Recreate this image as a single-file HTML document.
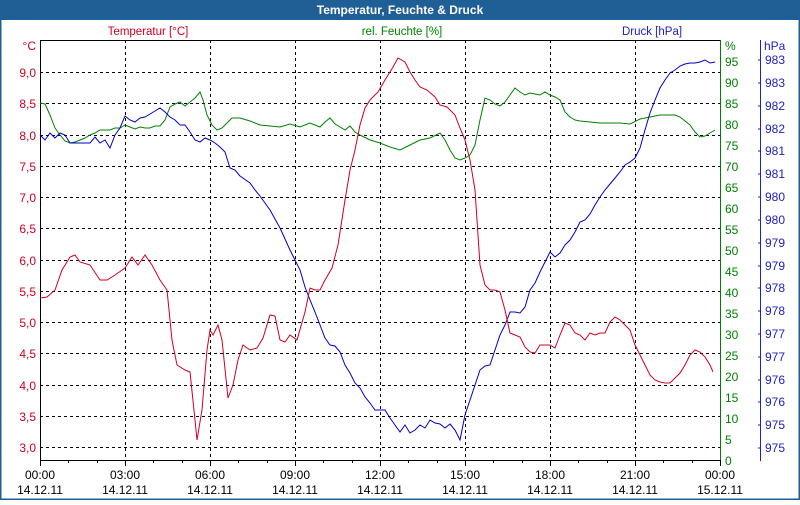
<!DOCTYPE html><html><head><style>body{margin:0;width:800px;height:500px;overflow:hidden;background:#fff}</style></head><body>
<svg width="800" height="500" xmlns="http://www.w3.org/2000/svg" font-family="Liberation Sans, DejaVu Sans, sans-serif" font-size="12">
<rect x="0.5" y="0.5" width="799" height="499" fill="#fff" stroke="#1f5f96" stroke-width="2"/>
<rect x="0" y="0" width="800" height="20" fill="#1f5f96"/>
<text x="400" y="14" text-anchor="middle" fill="#fff" font-weight="bold" font-size="12">Temperatur, Feuchte &amp; Druck</text>
<g font-size="11.5">
<text x="148" y="35" text-anchor="middle" fill="#d00020">Temperatur [°C]</text>
<text x="402" y="35" text-anchor="middle" fill="#008000">rel. Feuchte [%]</text>
<text x="652" y="35" text-anchor="middle" fill="#2020c0">Druck [hPa]</text>
</g>
<g stroke="#000" stroke-dasharray="3,3" stroke-width="1">
<line x1="40" y1="72.5" x2="720" y2="72.5"/><line x1="40" y1="103.5" x2="720" y2="103.5"/><line x1="40" y1="135.5" x2="720" y2="135.5"/><line x1="40" y1="166.5" x2="720" y2="166.5"/><line x1="40" y1="197.5" x2="720" y2="197.5"/><line x1="40" y1="228.5" x2="720" y2="228.5"/><line x1="40" y1="260.5" x2="720" y2="260.5"/><line x1="40" y1="291.5" x2="720" y2="291.5"/><line x1="40" y1="322.5" x2="720" y2="322.5"/><line x1="40" y1="353.5" x2="720" y2="353.5"/><line x1="40" y1="385.5" x2="720" y2="385.5"/><line x1="40" y1="416.5" x2="720" y2="416.5"/><line x1="40" y1="447.5" x2="720" y2="447.5"/>
<line x1="125.5" y1="40" x2="125.5" y2="460"/><line x1="210.5" y1="40" x2="210.5" y2="460"/><line x1="295.5" y1="40" x2="295.5" y2="460"/><line x1="380.5" y1="40" x2="380.5" y2="460"/><line x1="465.5" y1="40" x2="465.5" y2="460"/><line x1="550.5" y1="40" x2="550.5" y2="460"/><line x1="635.5" y1="40" x2="635.5" y2="460"/>
</g>
<line x1="40.5" y1="40" x2="40.5" y2="461" stroke="#000"/>
<line x1="40" y1="40.5" x2="720" y2="40.5" stroke="#000"/>
<line x1="40" y1="460.5" x2="720" y2="460.5" stroke="#000"/>
<line x1="720.5" y1="40" x2="720.5" y2="461" stroke="#008000"/>
<line x1="760.5" y1="40" x2="760.5" y2="461" stroke="#2020c0"/>
<g stroke="#000"><line x1="40.5" y1="460" x2="40.5" y2="466"/><line x1="68.5" y1="460" x2="68.5" y2="463"/><line x1="97.5" y1="460" x2="97.5" y2="463"/><line x1="125.5" y1="460" x2="125.5" y2="466"/><line x1="153.5" y1="460" x2="153.5" y2="463"/><line x1="182.5" y1="460" x2="182.5" y2="463"/><line x1="210.5" y1="460" x2="210.5" y2="466"/><line x1="238.5" y1="460" x2="238.5" y2="463"/><line x1="267.5" y1="460" x2="267.5" y2="463"/><line x1="295.5" y1="460" x2="295.5" y2="466"/><line x1="323.5" y1="460" x2="323.5" y2="463"/><line x1="352.5" y1="460" x2="352.5" y2="463"/><line x1="380.5" y1="460" x2="380.5" y2="466"/><line x1="408.5" y1="460" x2="408.5" y2="463"/><line x1="437.5" y1="460" x2="437.5" y2="463"/><line x1="465.5" y1="460" x2="465.5" y2="466"/><line x1="493.5" y1="460" x2="493.5" y2="463"/><line x1="522.5" y1="460" x2="522.5" y2="463"/><line x1="550.5" y1="460" x2="550.5" y2="466"/><line x1="578.5" y1="460" x2="578.5" y2="463"/><line x1="607.5" y1="460" x2="607.5" y2="463"/><line x1="635.5" y1="460" x2="635.5" y2="466"/><line x1="663.5" y1="460" x2="663.5" y2="463"/><line x1="692.5" y1="460" x2="692.5" y2="463"/><line x1="720.5" y1="460" x2="720.5" y2="466"/></g>
<g fill="#d00020" text-anchor="end">
<text x="36" y="50">°C</text><text x="36" y="77">9,0</text><text x="36" y="108">8,5</text><text x="36" y="140">8,0</text><text x="36" y="171">7,5</text><text x="36" y="202">7,0</text><text x="36" y="233">6,5</text><text x="36" y="265">6,0</text><text x="36" y="296">5,5</text><text x="36" y="327">5,0</text><text x="36" y="358">4,5</text><text x="36" y="390">4,0</text><text x="36" y="421">3,5</text><text x="36" y="452">3,0</text>
</g>
<g fill="#008000">
<text x="725" y="50">%</text>
<text x="725" y="66">95</text><text x="725" y="87">90</text><text x="725" y="108">85</text><text x="725" y="129">80</text><text x="725" y="150">75</text><text x="725" y="171">70</text><text x="725" y="192">65</text><text x="725" y="213">60</text><text x="725" y="234">55</text><text x="725" y="255">50</text><text x="725" y="276">45</text><text x="725" y="297">40</text><text x="725" y="318">35</text><text x="725" y="339">30</text><text x="725" y="360">25</text><text x="725" y="381">20</text><text x="725" y="402">15</text><text x="725" y="423">10</text><text x="725" y="444">5</text><text x="725" y="465">0</text>
</g>
<g fill="#2020c0">
<text x="764" y="50">hPa</text>
<text x="765" y="64">983</text><text x="765" y="87">983</text><text x="765" y="110">982</text><text x="765" y="133">982</text><text x="765" y="155">981</text><text x="765" y="178">981</text><text x="765" y="201">980</text><text x="765" y="224">980</text><text x="765" y="247">979</text><text x="765" y="270">979</text><text x="765" y="292">978</text><text x="765" y="315">978</text><text x="765" y="338">977</text><text x="765" y="361">977</text><text x="765" y="384">976</text><text x="765" y="406">976</text><text x="765" y="429">975</text><text x="765" y="452">975</text>
</g>
<g stroke="#2020c0"><line x1="758" y1="60" x2="761" y2="60"/><line x1="758" y1="83" x2="761" y2="83"/><line x1="758" y1="106" x2="761" y2="106"/><line x1="758" y1="129" x2="761" y2="129"/><line x1="758" y1="151" x2="761" y2="151"/><line x1="758" y1="174" x2="761" y2="174"/><line x1="758" y1="197" x2="761" y2="197"/><line x1="758" y1="220" x2="761" y2="220"/><line x1="758" y1="243" x2="761" y2="243"/><line x1="758" y1="266" x2="761" y2="266"/><line x1="758" y1="288" x2="761" y2="288"/><line x1="758" y1="311" x2="761" y2="311"/><line x1="758" y1="334" x2="761" y2="334"/><line x1="758" y1="357" x2="761" y2="357"/><line x1="758" y1="380" x2="761" y2="380"/><line x1="758" y1="402" x2="761" y2="402"/><line x1="758" y1="425" x2="761" y2="425"/><line x1="758" y1="448" x2="761" y2="448"/></g>
<g fill="#000" text-anchor="middle">
<text x="40" y="479">00:00</text><text x="40" y="494">14.12.11</text>
<text x="125" y="479">03:00</text><text x="125" y="494">14.12.11</text>
<text x="210" y="479">06:00</text><text x="210" y="494">14.12.11</text>
<text x="295" y="479">09:00</text><text x="295" y="494">14.12.11</text>
<text x="380" y="479">12:00</text><text x="380" y="494">14.12.11</text>
<text x="465" y="479">15:00</text><text x="465" y="494">14.12.11</text>
<text x="550" y="479">18:00</text><text x="550" y="494">14.12.11</text>
<text x="635" y="479">21:00</text><text x="635" y="494">14.12.11</text>
<text x="720" y="479">00:00</text><text x="720" y="494">15.12.11</text>
</g>
<polyline fill="none" stroke="#008000" stroke-width="1" points="40,103 45,104 50,115 55,128 60,135 65,141 70,143 75,142 80,140 85,138 90,135 95,133 100,130 105,130 110,130 115,128 120,128 125,125 130,127 135,129 140,127 145,128 150,128 155,126 160,126 165,120 170,107 175,104 180,102 185,106 190,102 195,98 200,92 203,100 207,115 212,125 217,130 222,128 227,123 232,118 240,118 250,121 260,125 270,126 280,127 290,124 300,127 310,123 320,127 325,122 330,118 335,124 340,127 345,130 350,126 355,132 360,135 370,140 380,143 390,147 400,150 410,145 420,140 430,138 440,133 445,140 450,150 455,158 460,160 465,158 470,155 475,145 480,120 485,98 490,100 495,104 500,106 505,102 510,95 515,88 520,92 525,95 530,93 535,94 540,95 545,92 550,95 555,97 560,100 565,112 570,117 575,120 580,121 590,122 600,123 610,123 620,123 630,124 640,119 650,117 660,115 670,115 675,115 680,117 690,125 695,132 700,137 705,136 710,133 715,130"/>
<polyline fill="none" stroke="#0000c8" stroke-width="1" points="40,135 45,140 50,133 55,138 60,133 65,135 70,143 80,143 90,143 95,137 100,143 105,140 110,148 115,135 120,128 125,116 130,120 135,122 140,118 145,117 150,114 155,111 160,108 165,112 170,117 175,120 180,125 185,125 190,132 195,140 200,142 205,138 210,140 215,143 220,147 225,152 230,168 235,170 240,176 250,183 255,190 260,196 270,210 280,228 290,250 300,270 305,287 310,300 315,312 320,325 325,338 330,345 335,346 340,352 345,365 350,373 355,383 360,388 365,397 370,403 375,410 380,410 385,410 390,418 395,425 400,432 405,425 410,433 415,430 420,425 425,428 430,420 435,423 440,424 445,428 450,424 455,430 460,440 465,415 470,400 475,385 480,370 485,366 490,365 495,350 500,335 505,325 510,312 515,312 520,313 525,307 530,290 535,283 540,272 545,262 550,252 555,257 560,253 565,245 570,240 575,232 580,222 585,220 590,214 595,205 600,197 605,190 610,184 615,178 620,172 625,165 630,162 635,158 640,148 645,130 650,113 655,100 660,88 665,80 670,73 675,70 680,66 685,64 690,63 695,63 700,62 705,60 710,63 715,62"/>
<polyline fill="none" stroke="#d00020" stroke-width="1" points="40,298 47,297 55,290 62,270 70,257 75,255 80,262 90,265 100,280 107,280 115,275 125,268 132,257 138,265 145,255 152,265 160,280 167,290 172,340 177,365 185,370 190,372 195,420 197,440 202,410 207,350 210,330 213,335 218,325 222,340 228,398 233,385 238,360 243,345 250,350 257,348 263,338 270,315 275,316 280,340 285,342 290,335 297,340 305,312 310,288 315,290 320,290 325,280 332,268 338,245 345,200 350,170 355,150 360,125 365,108 370,100 378,92 385,80 393,67 398,58 405,62 410,72 415,80 420,87 427,90 435,97 440,105 447,107 455,115 460,128 465,140 470,160 475,190 477,220 480,265 485,285 490,290 495,290 500,292 505,310 510,333 515,335 520,337 525,347 530,352 535,353 540,345 545,345 550,345 555,348 560,335 565,323 570,325 575,333 580,335 585,340 590,333 595,335 600,333 605,333 610,322 615,317 620,320 625,325 630,330 635,345 640,355 645,365 650,375 655,380 660,382 665,383 670,383 675,378 680,373 685,365 690,355 695,350 700,352 705,357 710,365 713,372"/>
</svg>
</body></html>
